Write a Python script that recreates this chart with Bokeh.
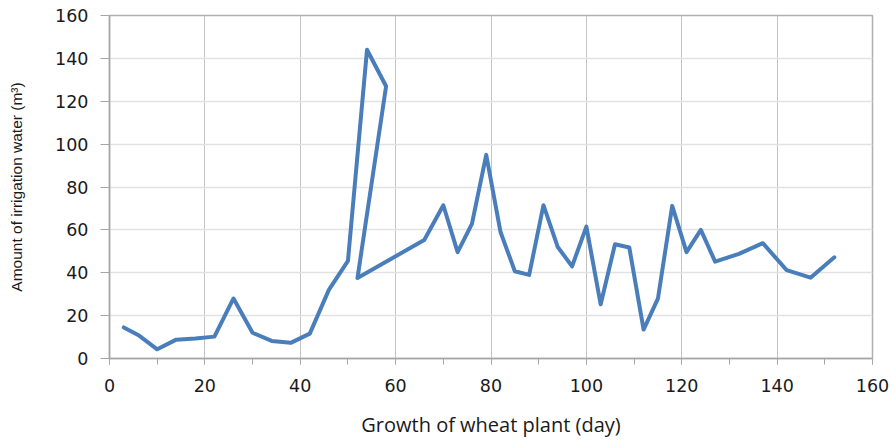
from bokeh.plotting import figure
from bokeh.models import Range1d, FixedTicker, ColumnDataSource
from bokeh.embed import file_html
from bokeh.resources import INLINE

# Data (day, irrigation water m3)
days = [3, 6, 10, 14, 18, 22, 26, 30, 34, 38, 42, 46, 50, 54, 58, 52, 66, 70, 73,
        76, 79, 82, 85, 88, 91, 94, 97, 100, 103, 106, 109, 112, 115, 118, 121,
        124, 127, 132, 137, 142, 147, 152]
water = [14.5, 11, 4.3, 8.8, 9.3, 10.2, 28, 12, 8.2, 7.3, 11.6, 32, 45.5, 144, 127,
         37.5, 55.3, 71.5, 49.6, 62.8, 95, 59, 40.7, 39, 71.5, 52, 43, 61.5, 25.3,
         53.3, 51.8, 13.5, 27.9, 71.2, 49.6, 60, 45.2, 48.8, 53.8, 41.2, 37.7, 47.2]
x_ticks = [0, 20, 40, 60, 80, 100, 120, 140, 160]
y_ticks = [0, 20, 40, 60, 80, 100, 120, 140, 160]

src = ColumnDataSource(data=dict(x=days, y=water))

p = figure(width=892, height=441, output_backend="svg", toolbar_location=None,
           x_range=Range1d(0, 160), y_range=Range1d(0, 160),
           min_border_left=109, min_border_right=20, min_border_top=15,
           min_border_bottom=83)

p.line("x", "y", source=src, line_color="#4a7ebb", line_width=4,
       line_join="round", line_cap="round")

p.xaxis.ticker = FixedTicker(ticks=x_ticks, minor_ticks=list(range(0, 161, 10)))
p.yaxis.ticker = FixedTicker(ticks=y_ticks, minor_ticks=[])

p.xgrid.grid_line_color = "#c4c4c4"
p.xgrid.grid_line_width = 1
p.ygrid.grid_line_color = "#e2e2e2"
p.ygrid.grid_line_width = 1.5

p.outline_line_color = "#b0b0b0"
p.outline_line_width = 1.5

for ax in (p.xaxis[0], p.yaxis[0]):
    ax.axis_line_color = "#a6a6a6"
    ax.axis_line_width = 1.5
    ax.major_tick_line_color = "#a6a6a6"
    ax.minor_tick_line_color = "#a6a6a6"
    ax.major_tick_in = 0
    ax.minor_tick_in = 0
    ax.major_label_text_font = "DejaVu Sans"
    ax.major_label_text_font_size = "17.5px"
    ax.major_label_text_color = "#1a1a1a"

p.xaxis.major_tick_out = 6
p.xaxis.minor_tick_out = 6
p.xaxis.major_label_standoff = 14
p.xaxis.axis_label = "Growth of wheat plant (day)"
p.xaxis.axis_label_text_font = "Open Sans"
p.xaxis.axis_label_text_font_style = "normal"
p.xaxis.axis_label_text_font_size = "20px"
p.xaxis.axis_label_text_color = "#1a1a1a"
p.xaxis.axis_label_standoff = 16

p.yaxis.major_tick_out = 9
p.yaxis.minor_tick_out = 0
p.yaxis.major_label_standoff = 12
p.yaxis.axis_label = "Amount of irrigation water (m³)"
p.yaxis.axis_label_text_font = "Liberation Sans"
p.yaxis.axis_label_text_font_style = "normal"
p.yaxis.axis_label_text_font_size = "15.5px"
p.yaxis.axis_label_text_color = "#1a1a1a"
p.yaxis.axis_label_standoff = 27

p.background_fill_color = "white"
p.border_fill_color = "white"

open("out.html", "w").write(file_html(p, INLINE))
